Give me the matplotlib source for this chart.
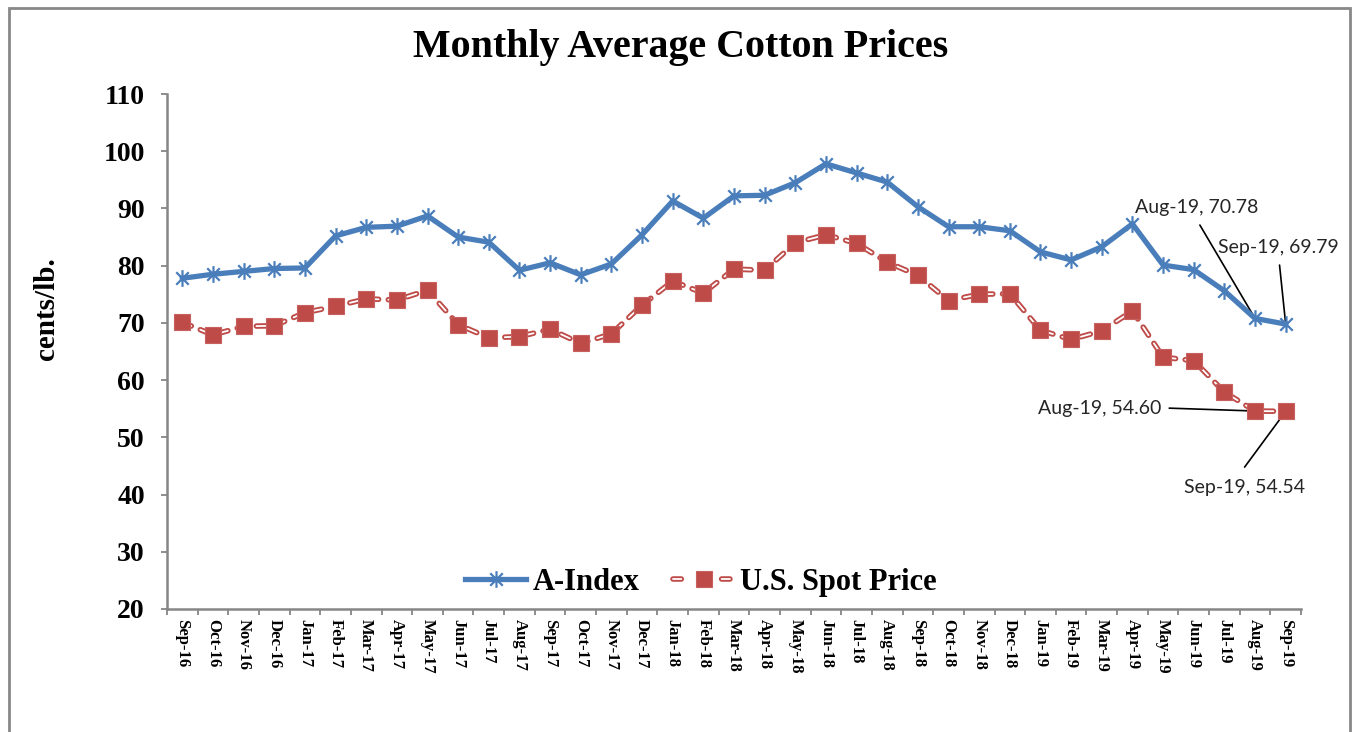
import matplotlib
matplotlib.use("Agg")
import matplotlib.pyplot as plt
from matplotlib.path import Path
from matplotlib.patches import Rectangle
from matplotlib.lines import Line2D
from matplotlib.legend_handler import HandlerTuple

plt.rcParams['lines.scale_dashes'] = False

months = ["Sep-16", "Oct-16", "Nov-16", "Dec-16", "Jan-17", "Feb-17", "Mar-17", "Apr-17",
          "May-17", "Jun-17", "Jul-17", "Aug-17", "Sep-17", "Oct-17", "Nov-17", "Dec-17",
          "Jan-18", "Feb-18", "Mar-18", "Apr-18", "May-18", "Jun-18", "Jul-18", "Aug-18",
          "Sep-18", "Oct-18", "Nov-18", "Dec-18", "Jan-19", "Feb-19", "Mar-19", "Apr-19",
          "May-19", "Jun-19", "Jul-19", "Aug-19", "Sep-19"]

a_index = [77.8, 78.5, 79.0, 79.5, 79.6, 85.2, 86.7, 86.9, 88.7, 85.0, 84.1, 79.2,
           80.5, 78.4, 80.3, 85.4, 91.3, 88.3, 92.2, 92.3, 94.5, 97.8, 96.2, 94.6,
           90.3, 86.8, 86.8, 86.1, 82.4, 81.0, 83.3, 87.3, 80.1, 79.3, 75.6, 70.78, 69.79]

us_spot = [70.1, 67.9, 69.4, 69.5, 71.8, 72.9, 74.2, 74.0, 75.7, 69.7, 67.4, 67.6,
           68.9, 66.4, 68.1, 73.1, 77.3, 75.2, 79.4, 79.2, 84.0, 85.4, 83.9, 80.6,
           78.3, 73.9, 75.0, 75.1, 68.7, 67.1, 68.6, 72.1, 64.0, 63.4, 57.9, 54.60, 54.54]

y_ticks = [20, 30, 40, 50, 60, 70, 80, 90, 100, 110]

BLUE = "#4A7EBB"
RED = "#BE4B48"
GRAY = "#868686"
SERIF = ["Liberation Serif", "DejaVu Serif"]
SANS = ["Lato", "DejaVu Sans"]

# 6-armed star marker: vertical line plus an X
star = Path([(0, -1), (0, 1), (-0.75, -0.75), (0.75, 0.75), (-0.75, 0.75), (0.75, -0.75)],
            [Path.MOVETO, Path.LINETO, Path.MOVETO, Path.LINETO, Path.MOVETO, Path.LINETO])

fig = plt.figure(figsize=(13.53, 7.32), dpi=100)
fig.patches.append(Rectangle((9 / 1353, -0.02), (1350 - 9) / 1353, (732 - 8) / 732 + 0.02,
                             transform=fig.transFigure, fill=False, edgecolor="#888888",
                             linewidth=2, zorder=0))

ax = fig.add_axes([167 / 1353, 1 - 609 / 732, (1301 - 167) / 1353, (609 - 94) / 732])
x = list(range(len(months)))

la, = ax.plot(x, a_index, color=BLUE, lw=3.8, marker=star, markersize=12,
              markeredgewidth=1.6, markeredgecolor=BLUE, zorder=4)
dash = (0, (7, 7))
ax.plot(x, us_spot, color=RED, lw=4.0, linestyle=dash, dash_capstyle="round", zorder=3)
ax.plot(x, us_spot, color="white", lw=1.3, linestyle=dash, dash_capstyle="round", zorder=3)
lm, = ax.plot(x, us_spot, linestyle="none", marker="s", markersize=11.5, markerfacecolor=RED,
              markeredgecolor="#C86060", markeredgewidth=0.8, zorder=5)

# legend proxies for the outlined dashed line
ldash = (0, (6, 29))
p1 = Line2D([], [], color=RED, lw=4.0, linestyle=ldash, dash_capstyle="round")
p2 = Line2D([], [], color="white", lw=1.3, linestyle=ldash, dash_capstyle="round")

ax.set_xlim(-0.5, len(months) - 0.5)
ax.set_ylim(20, 110)
ax.set_yticks(y_ticks)
ax.set_yticklabels([str(v) for v in y_ticks], fontfamily=SERIF, fontweight="bold", fontsize=20)
ax.set_xticks(x)
ax.set_xticklabels(months, rotation=270, fontfamily=SERIF, fontweight="bold", fontsize=12)
ax.set_xticks([i - 0.5 for i in range(len(months) + 1)], minor=True)
ax.tick_params(axis="x", which="major", length=0, pad=7)
ax.tick_params(axis="x", which="minor", length=4, width=1.3, color=GRAY, direction="out")
ax.tick_params(axis="y", length=4, width=1.3, color=GRAY, direction="out", pad=12)

for s in ["top", "right"]:
    ax.spines[s].set_visible(False)
for s in ["left", "bottom"]:
    ax.spines[s].set_color(GRAY)
    ax.spines[s].set_linewidth(1.8)

ax.set_ylabel("cents/lb.", fontfamily=SERIF, fontweight="bold", fontsize=21)
ax.yaxis.set_label_coords(-0.0945, 0.584)

fig.text(0.503, 1 - 48 / 732, "Monthly Average Cotton Prices", ha="center", va="center",
         fontfamily=SERIF, fontweight="bold", fontsize=28.8)

leg = ax.legend([la, (p1, p2, lm)], ["A-Index", "U.S. Spot Price"],
                handler_map={tuple: HandlerTuple(ndivide=1, pad=0)},
                loc="lower center", bbox_to_anchor=(0.471, -0.03), ncol=2, frameon=False,
                prop={"family": SERIF, "weight": "bold", "size": 22},
                handlelength=2.0, handletextpad=0.2, columnspacing=1.1)

txt = dict(fontfamily=SANS, fontsize=14, color="#262626", va="center")
line = dict(arrowprops=dict(arrowstyle="-", color="black", lw=1.2, shrinkA=0, shrinkB=0))
n = len(months)
ax.text(31.1, 90.1, f"{months[-2]}, {a_index[-2]:.2f}", ha="left", **txt)
ax.annotate("", xy=(n - 2, a_index[-2]), xytext=(33.2, 87.1), **line)
ax.text(33.8, 83.1, f"{months[-1]}, {a_index[-1]:.2f}", ha="left", **txt)
ax.annotate("", xy=(n - 1, a_index[-1]), xytext=(35.8, 80.1), **line)
ax.text(31.95, 55.0, f"{months[-2]}, {us_spot[-2]:.2f}", ha="right", **txt)
ax.annotate("", xy=(n - 2, us_spot[-2]), xytext=(32.2, 55.1), **line)
ax.text(34.66, 41.3, f"{months[-1]}, {us_spot[-1]:.2f}", ha="center", **txt)
ax.annotate("", xy=(n - 1, us_spot[-1]), xytext=(34.66, 44.8), **line)

fig.savefig("out.png", dpi=100)
